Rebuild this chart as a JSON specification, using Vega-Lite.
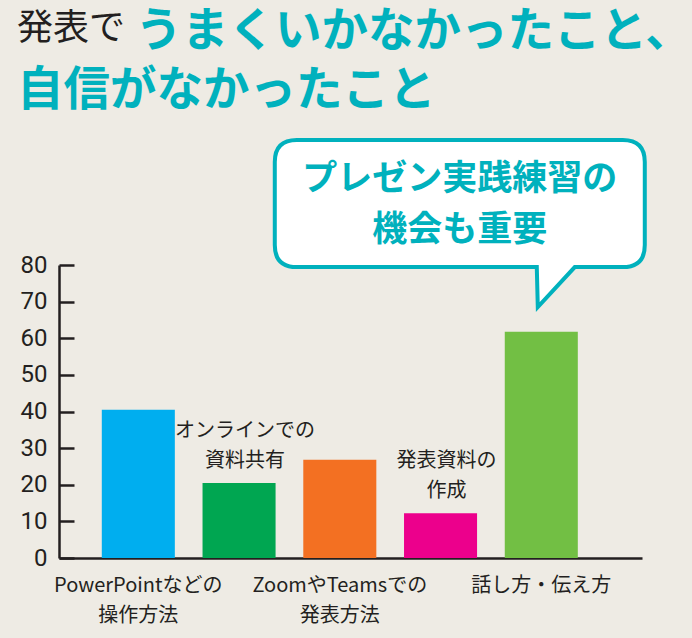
{
  "$schema": "https://vega.github.io/schema/vega-lite/v6.json",
  "width": 583,
  "height": 293,
  "autosize": {"type": "none"},
  "padding": {"left": 59, "top": 265, "right": 50, "bottom": 80},
  "background": "#EEEBE4",
  "config": {"view": {"stroke": null}},
  "title": {
    "text": "発表で",
    "subtitle": "自信がなかったこと",
    "anchor": "start",
    "frame": "group",
    "dx": -42,
    "font": "Noto Sans CJK JP",
    "fontSize": 36,
    "fontWeight": "normal",
    "color": "#231F20",
    "subtitleFont": "Noto Sans CJK JP",
    "subtitleFontSize": 46.5,
    "subtitleFontWeight": "bold",
    "subtitleColor": "#00B1BD",
    "subtitlePadding": 20,
    "offset": -107
  },
  "data": {
    "values": [
      {"item": "PowerPointなどの\n操作方法", "pct": 40.5, "place": "below"},
      {"item": "オンラインでの\n資料共有", "pct": 20.5, "place": "above"},
      {"item": "ZoomやTeamsでの\n発表方法", "pct": 26.8, "place": "below"},
      {"item": "発表資料の\n作成", "pct": 12.2, "place": "above"},
      {"item": "話し方・伝え方", "pct": 61.8, "place": "below"}
    ]
  },
  "encoding": {
    "x": {
      "field": "item",
      "type": "nominal",
      "sort": null,
      "scale": {"paddingInner": 0.275, "paddingOuter": 0.531, "align": 0.4},
      "axis": {
        "title": null, "labels": false, "ticks": false,
        "domain": true, "domainColor": "#231F20", "domainWidth": 2.5, "grid": false
      }
    }
  },
  "layer": [
    {
      "mark": {"type": "bar"},
      "encoding": {
        "y": {
          "field": "pct", "type": "quantitative",
          "scale": {"domain": [0, 80], "nice": false},
          "axis": {
            "title": "うまくいかなかったこと、",
            "titleFont": "Noto Sans CJK JP", "titleFontSize": 46.5, "titleFontWeight": "bold",
            "titleColor": "#00B1BD", "titleAngle": 0, "titleAlign": "left", "titleBaseline": "alphabetic",
            "titleX": 76, "titleY": -220, "titleLimit": 1000,
            "values": [0, 10, 20, 30, 40, 50, 60, 70, 80], "tickCount": 12, "labelOverlap": false,
            "grid": false, "domainColor": "#231F20", "domainWidth": 2.5,
            "tickColor": "#231F20", "tickWidth": 2.5, "tickSize": -15,
            "labelFont": "Roboto", "labelFontSize": 24, "labelColor": "#231F20",
            "labelPadding": 27
          }
        },
        "color": {
          "field": "item", "type": "nominal", "legend": null,
          "scale": {
            "domain": ["PowerPointなどの\n操作方法", "オンラインでの\n資料共有", "ZoomやTeamsでの\n発表方法", "発表資料の\n作成", "話し方・伝え方"],
            "range": ["#00AEEF", "#00A651", "#F37022", "#EC008C", "#72BF44"]
          }
        }
      }
    },
    {
      "transform": [{"filter": "datum.place === 'below'"}],
      "mark": {"type": "text", "baseline": "top", "align": "center", "dy": 18, "font": "Noto Sans CJK JP", "fontSize": 20, "lineHeight": 30, "color": "#231F20", "lineBreak": "\n"},
      "encoding": {
        "y": {"datum": 0, "type": "quantitative"},
        "text": {"field": "item"}
      }
    },
    {
      "transform": [{"filter": "datum.place === 'above'"}],
      "mark": {"type": "text", "baseline": "bottom", "align": "center", "dy": -42, "dx": 6, "font": "Noto Sans CJK JP", "fontSize": 20, "lineHeight": 30, "color": "#231F20", "lineBreak": "\n"},
      "encoding": {
        "y": {"field": "pct", "type": "quantitative"},
        "text": {"field": "item"}
      }
    },
    {
      "data": {"values": [{"item": "話し方・伝え方", "note": "プレゼン実践練習の\n機会も重要"}]},
      "mark": {
        "type": "point", "filled": true, "fill": "#FFFFFF", "opacity": 1, "fillOpacity": 1,
        "stroke": "#00B1BD", "strokeWidth": 4, "strokeOpacity": 1, "size": 40000,
        "shape": "M -2.445 -1.67 L 0.815 -1.67 Q 1.035 -1.67 1.035 -1.45 L 1.035 -0.62 Q 1.035 -0.40 0.815 -0.40 L 0.335 -0.40 L -0.035 0 L -0.045 -0.40 L -2.445 -0.40 Q -2.665 -0.40 -2.665 -0.62 L -2.665 -1.45 Q -2.665 -1.67 -2.445 -1.67 Z"
      },
      "encoding": {
        "y": {"datum": 68.5, "type": "quantitative"}
      }
    },
    {
      "data": {"values": [{"item": "話し方・伝え方", "note": "プレゼン実践練習の\n機会も重要"}]},
      "mark": {"type": "text", "align": "center", "baseline": "middle", "dx": -81.5, "dy": -24, "font": "Noto Sans CJK JP", "fontSize": 35, "fontWeight": "bold", "lineHeight": 51, "color": "#00B1BD", "lineBreak": "\n"},
      "encoding": {
        "y": {"datum": 96.9, "type": "quantitative"},
        "text": {"field": "note"}
      }
    }
  ]
}
